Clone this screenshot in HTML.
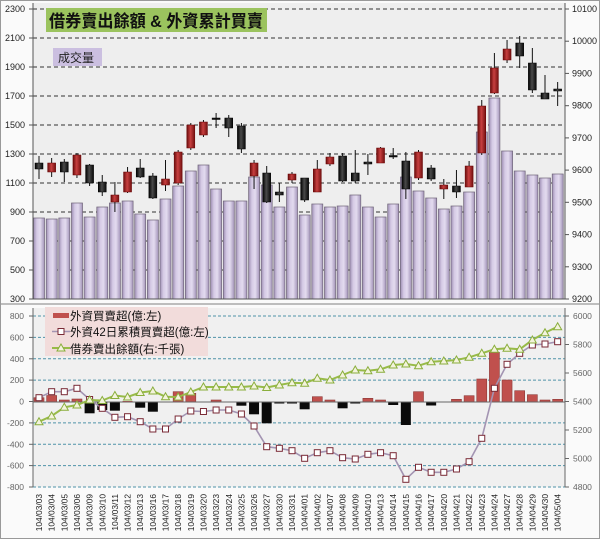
<!DOCTYPE html>
<html><head><meta charset="utf-8"><style>
html,body{margin:0;padding:0;background:#fff;}
svg{display:block;}
text{font-family:"Liberation Sans","Noto Sans CJK TC",sans-serif;}
</style></head><body>
<svg width="600" height="539" viewBox="0 0 600 539" xmlns="http://www.w3.org/2000/svg">
<defs>
<linearGradient id="vb" x1="0" x2="1" y1="0" y2="0"><stop offset="0" stop-color="#9e8fb4"/><stop offset="0.3" stop-color="#d5cae5"/><stop offset="0.6" stop-color="#e3dbef"/><stop offset="1" stop-color="#a495ba"/></linearGradient>
<linearGradient id="rc" x1="0" x2="1" y1="0" y2="0"><stop offset="0" stop-color="#6a0c0c"/><stop offset="0.45" stop-color="#c84040"/><stop offset="1" stop-color="#741010"/></linearGradient>
<linearGradient id="kc" x1="0" x2="1" y1="0" y2="0"><stop offset="0" stop-color="#000"/><stop offset="0.45" stop-color="#4a4a4a"/><stop offset="1" stop-color="#080808"/></linearGradient>
<marker id="msq" markerWidth="8" markerHeight="8" refX="4" refY="4" markerUnits="userSpaceOnUse"><rect x="1" y="1" width="6" height="6" fill="#fff" stroke="#7a2a36" stroke-width="1"/></marker>
<marker id="mtr" markerWidth="10" markerHeight="10" refX="5" refY="5.5" markerUnits="userSpaceOnUse"><polygon points="5,1.5 1,8.5 9,8.5" fill="#f3f3dc" stroke="#8aae3c" stroke-width="1"/></marker>
</defs>

<!-- backgrounds -->
<rect x="0" y="0" width="600" height="539" fill="#fafafa"/>
<rect x="33" y="3" width="532" height="296" fill="#eeeeee"/>
<rect x="33" y="308" width="532" height="179" fill="#f0f0f0"/>
<rect x="0.5" y="0.5" width="599" height="538" fill="none" stroke="#999"/>
<line x1="0" y1="304" x2="600" y2="304" stroke="#999" stroke-width="1.2"/>

<!-- top gridlines -->
<g stroke="#333" stroke-width="1" stroke-dasharray="4,3">
<line x1="33" y1="9" x2="565" y2="9"/><line x1="33" y1="38" x2="565" y2="38"/><line x1="33" y1="67" x2="565" y2="67"/><line x1="33" y1="96" x2="565" y2="96"/><line x1="33" y1="125" x2="565" y2="125"/><line x1="33" y1="154" x2="565" y2="154"/><line x1="33" y1="183" x2="565" y2="183"/><line x1="33" y1="212" x2="565" y2="212"/><line x1="33" y1="241" x2="565" y2="241"/><line x1="33" y1="270" x2="565" y2="270"/>
</g>

<!-- volume bars -->
<g fill="url(#vb)" stroke="#6f6478" stroke-width="0.7">
<rect x="33.5" y="218" width="11" height="81"/><rect x="46.2" y="219" width="11" height="80"/><rect x="58.8" y="218" width="11" height="81"/><rect x="71.5" y="203" width="11" height="96"/><rect x="84.1" y="217" width="11" height="82"/><rect x="96.8" y="207" width="11" height="92"/><rect x="109.4" y="203" width="11" height="96"/><rect x="122.1" y="201" width="11" height="98"/><rect x="134.7" y="214" width="11" height="85"/><rect x="147.4" y="220" width="11" height="79"/><rect x="160" y="199" width="11" height="100"/><rect x="172.7" y="186" width="11" height="113"/><rect x="185.3" y="171" width="11" height="128"/><rect x="198" y="165" width="11" height="134"/><rect x="210.6" y="189" width="11" height="110"/><rect x="223.3" y="201" width="11" height="98"/><rect x="235.9" y="201" width="11" height="98"/><rect x="248.6" y="177" width="11" height="122"/><rect x="261.2" y="185" width="11" height="114"/><rect x="273.9" y="207" width="11" height="92"/><rect x="286.5" y="187" width="11" height="112"/><rect x="299.2" y="215" width="11" height="84"/><rect x="311.8" y="204" width="11" height="95"/><rect x="324.5" y="207" width="11" height="92"/><rect x="337.1" y="206" width="11" height="93"/><rect x="349.8" y="195" width="11" height="104"/><rect x="362.4" y="207" width="11" height="92"/><rect x="375.1" y="217" width="11" height="82"/><rect x="387.7" y="204" width="11" height="95"/><rect x="400.4" y="177" width="11" height="122"/><rect x="413" y="191" width="11" height="108"/><rect x="425.7" y="198" width="11" height="101"/><rect x="438.3" y="209" width="11" height="90"/><rect x="451" y="206" width="11" height="93"/><rect x="463.6" y="192" width="11" height="107"/><rect x="476.3" y="132" width="11" height="167"/><rect x="488.9" y="98" width="11" height="201"/><rect x="501.6" y="151" width="11" height="148"/><rect x="514.2" y="171" width="11" height="128"/><rect x="526.9" y="175" width="11" height="124"/><rect x="539.5" y="178" width="11" height="121"/><rect x="552.2" y="174" width="11" height="125"/>
</g>

<!-- candle wicks -->
<g stroke="#111" stroke-width="1">
<line x1="39" y1="156" x2="39" y2="179"/><line x1="51.65" y1="158" x2="51.65" y2="177"/><line x1="64.3" y1="159" x2="64.3" y2="182"/><line x1="76.95" y1="153" x2="76.95" y2="178"/><line x1="89.6" y1="164" x2="89.6" y2="186"/><line x1="102.25" y1="175" x2="102.25" y2="196"/><line x1="114.9" y1="182" x2="114.9" y2="212"/><line x1="127.55" y1="167" x2="127.55" y2="193"/><line x1="140.2" y1="159" x2="140.2" y2="178"/><line x1="152.85" y1="173" x2="152.85" y2="199"/><line x1="165.5" y1="160" x2="165.5" y2="191"/><line x1="178.15" y1="150" x2="178.15" y2="185"/><line x1="190.8" y1="123" x2="190.8" y2="150"/><line x1="203.45" y1="120" x2="203.45" y2="137"/><line x1="216.1" y1="113" x2="216.1" y2="128"/><line x1="228.75" y1="115" x2="228.75" y2="137"/><line x1="241.4" y1="123" x2="241.4" y2="153"/><line x1="254.05" y1="160" x2="254.05" y2="189"/><line x1="266.7" y1="166" x2="266.7" y2="203"/><line x1="279.35" y1="183" x2="279.35" y2="202"/><line x1="292" y1="172" x2="292" y2="183"/><line x1="304.65" y1="178" x2="304.65" y2="202"/><line x1="317.3" y1="160" x2="317.3" y2="192"/><line x1="329.95" y1="153" x2="329.95" y2="166"/><line x1="342.6" y1="153" x2="342.6" y2="182"/><line x1="355.25" y1="150" x2="355.25" y2="183"/><line x1="367.9" y1="154" x2="367.9" y2="175"/><line x1="380.55" y1="147" x2="380.55" y2="163"/><line x1="393.2" y1="148" x2="393.2" y2="159"/><line x1="405.85" y1="152" x2="405.85" y2="199"/><line x1="418.5" y1="150" x2="418.5" y2="180"/><line x1="431.15" y1="165" x2="431.15" y2="181"/><line x1="443.8" y1="179" x2="443.8" y2="199"/><line x1="456.45" y1="170" x2="456.45" y2="198"/><line x1="469.1" y1="161" x2="469.1" y2="187"/><line x1="481.75" y1="100" x2="481.75" y2="155"/><line x1="494.4" y1="53" x2="494.4" y2="94"/><line x1="507.05" y1="40" x2="507.05" y2="63"/><line x1="519.7" y1="36" x2="519.7" y2="68"/><line x1="532.35" y1="48" x2="532.35" y2="93"/><line x1="545" y1="75" x2="545" y2="99"/><line x1="557.65" y1="82" x2="557.65" y2="106"/>
</g>
<!-- candle bodies -->
<g stroke-width="0.5">
<rect x="35" y="163" width="8" height="6" fill="url(#kc)" stroke="#000"/>
<rect x="47.65" y="163" width="8" height="9" fill="url(#rc)" stroke="#600"/>
<rect x="60.3" y="162" width="8" height="10" fill="url(#kc)" stroke="#000"/>
<rect x="72.95" y="155" width="8" height="20" fill="url(#rc)" stroke="#600"/>
<rect x="85.6" y="165" width="8" height="18" fill="url(#kc)" stroke="#000"/>
<rect x="98.25" y="182" width="8" height="10" fill="url(#kc)" stroke="#000"/>
<rect x="110.9" y="195" width="8" height="7" fill="url(#rc)" stroke="#600"/>
<rect x="123.55" y="172" width="8" height="20" fill="url(#rc)" stroke="#600"/>
<rect x="136.2" y="168" width="8" height="9" fill="url(#kc)" stroke="#000"/>
<rect x="148.85" y="176" width="8" height="22" fill="url(#kc)" stroke="#000"/>
<rect x="161.5" y="179" width="8" height="6" fill="url(#rc)" stroke="#600"/>
<rect x="174.15" y="152" width="8" height="31" fill="url(#rc)" stroke="#600"/>
<rect x="186.8" y="125" width="8" height="23" fill="url(#rc)" stroke="#600"/>
<rect x="199.45" y="122" width="8" height="13" fill="url(#rc)" stroke="#600"/>
<rect x="212.1" y="118" width="8" height="1.5" fill="#111" stroke="#000"/>
<rect x="224.75" y="118" width="8" height="10" fill="url(#kc)" stroke="#000"/>
<rect x="237.4" y="126" width="8" height="23" fill="url(#kc)" stroke="#000"/>
<rect x="250.05" y="163" width="8" height="13" fill="url(#rc)" stroke="#600"/>
<rect x="262.7" y="173" width="8" height="29" fill="url(#kc)" stroke="#000"/>
<rect x="275.35" y="192" width="8" height="3" fill="url(#kc)" stroke="#000"/>
<rect x="288" y="174" width="8" height="6" fill="url(#rc)" stroke="#600"/>
<rect x="300.65" y="178" width="8" height="22" fill="url(#kc)" stroke="#000"/>
<rect x="313.3" y="169" width="8" height="23" fill="url(#rc)" stroke="#600"/>
<rect x="325.95" y="157" width="8" height="7" fill="url(#rc)" stroke="#600"/>
<rect x="338.6" y="156" width="8" height="25" fill="url(#kc)" stroke="#000"/>
<rect x="351.25" y="173" width="8" height="8" fill="url(#kc)" stroke="#000"/>
<rect x="363.9" y="162" width="8" height="2" fill="url(#kc)" stroke="#000"/>
<rect x="376.55" y="148" width="8" height="15" fill="url(#rc)" stroke="#600"/>
<rect x="389.2" y="155.5" width="8" height="1.5" fill="#111" stroke="#000"/>
<rect x="401.85" y="161" width="8" height="28" fill="url(#kc)" stroke="#000"/>
<rect x="414.5" y="152" width="8" height="26" fill="url(#rc)" stroke="#600"/>
<rect x="427.15" y="168" width="8" height="11" fill="url(#kc)" stroke="#000"/>
<rect x="439.8" y="185" width="8" height="4" fill="url(#rc)" stroke="#600"/>
<rect x="452.45" y="186" width="8" height="6" fill="url(#kc)" stroke="#000"/>
<rect x="465.1" y="166" width="8" height="21" fill="url(#rc)" stroke="#600"/>
<rect x="477.75" y="106" width="8" height="47" fill="url(#rc)" stroke="#600"/>
<rect x="490.4" y="68" width="8" height="25" fill="url(#rc)" stroke="#600"/>
<rect x="503.05" y="49" width="8" height="11" fill="url(#rc)" stroke="#600"/>
<rect x="515.7" y="43" width="8" height="13" fill="url(#kc)" stroke="#000"/>
<rect x="528.35" y="63" width="8" height="27" fill="url(#kc)" stroke="#000"/>
<rect x="541" y="93" width="8" height="6" fill="url(#kc)" stroke="#000"/>
<rect x="553.65" y="89" width="8" height="2" fill="url(#kc)" stroke="#000"/>
</g>

<!-- top axes -->
<g stroke="#555" stroke-width="1">
<line x1="33" y1="3" x2="33" y2="299"/><line x1="565" y1="3" x2="565" y2="299"/><line x1="33" y1="299" x2="565" y2="299"/>
<line x1="29" y1="9" x2="33" y2="9"/><line x1="29" y1="38" x2="33" y2="38"/><line x1="29" y1="67" x2="33" y2="67"/><line x1="29" y1="96" x2="33" y2="96"/><line x1="29" y1="125" x2="33" y2="125"/><line x1="29" y1="154" x2="33" y2="154"/><line x1="29" y1="183" x2="33" y2="183"/><line x1="29" y1="212" x2="33" y2="212"/><line x1="29" y1="241" x2="33" y2="241"/><line x1="29" y1="270" x2="33" y2="270"/><line x1="29" y1="299" x2="33" y2="299"/>
<line x1="565" y1="9" x2="569" y2="9"/><line x1="565" y1="41.2" x2="569" y2="41.2"/><line x1="565" y1="73.4" x2="569" y2="73.4"/><line x1="565" y1="105.7" x2="569" y2="105.7"/><line x1="565" y1="137.9" x2="569" y2="137.9"/><line x1="565" y1="170.1" x2="569" y2="170.1"/><line x1="565" y1="202.3" x2="569" y2="202.3"/><line x1="565" y1="234.6" x2="569" y2="234.6"/><line x1="565" y1="266.8" x2="569" y2="266.8"/><line x1="565" y1="299" x2="569" y2="299"/>
</g>
<g font-size="9" fill="#222" text-anchor="end">
<text x="25" y="12">2300</text><text x="25" y="41">2100</text><text x="25" y="70">1900</text><text x="25" y="99">1700</text><text x="25" y="128">1500</text><text x="25" y="157">1300</text><text x="25" y="186">1100</text><text x="25" y="215">900</text><text x="25" y="244">700</text><text x="25" y="273">500</text><text x="25" y="302">300</text>
</g>
<g font-size="9" fill="#222">
<text x="572" y="12">10100</text><text x="572" y="44.2">10000</text><text x="572" y="76.4">9900</text><text x="572" y="108.7">9800</text><text x="572" y="140.9">9700</text><text x="572" y="173.1">9600</text><text x="572" y="205.3">9500</text><text x="572" y="237.6">9400</text><text x="572" y="269.8">9300</text><text x="572" y="302">9200</text>
</g>

<!-- title & label -->
<rect x="46" y="8" width="221" height="24" fill="#9bc35e"/>
<text x="49" y="27" font-size="17" font-weight="bold" fill="#111" textLength="214" lengthAdjust="spacingAndGlyphs">借券賣出餘額 &amp; 外資累計買賣</text>
<rect x="53" y="48" width="49" height="18" fill="#cbbfe0"/>
<text x="58" y="62" font-size="12" fill="#222">成交量</text>

<!-- bottom gridlines -->
<g stroke="#4f93a8" stroke-width="1" stroke-dasharray="3,2">
<line x1="33" y1="316" x2="565" y2="316"/><line x1="33" y1="337.4" x2="565" y2="337.4"/><line x1="33" y1="358.8" x2="565" y2="358.8"/><line x1="33" y1="380.1" x2="565" y2="380.1"/><line x1="33" y1="422.9" x2="565" y2="422.9"/><line x1="33" y1="444.3" x2="565" y2="444.3"/><line x1="33" y1="465.6" x2="565" y2="465.6"/><line x1="33" y1="487" x2="565" y2="487"/>
</g>

<!-- net buy bars -->
<g stroke-width="0.6">
<rect x="34" y="397.7" width="10" height="4.3" fill="#c0504d" stroke="#8c3a38"/>
<rect x="46.65" y="395.5" width="10" height="6.5" fill="#c0504d" stroke="#8c3a38"/>
<rect x="59.3" y="400" width="10" height="2" fill="#c0504d" stroke="#8c3a38"/>
<rect x="71.95" y="399" width="10" height="3" fill="#c0504d" stroke="#8c3a38"/>
<rect x="84.6" y="402" width="10" height="11.3" fill="#0a0a0a"/>
<rect x="97.25" y="402" width="10" height="8" fill="#0a0a0a"/>
<rect x="109.9" y="402" width="10" height="8.7" fill="#0a0a0a"/>
<rect x="122.55" y="401" width="10" height="1" fill="#c0504d"/>
<rect x="135.2" y="402" width="10" height="5.7" fill="#0a0a0a"/>
<rect x="147.85" y="402" width="10" height="9.7" fill="#0a0a0a"/>
<rect x="173.15" y="391.7" width="10" height="10.3" fill="#c0504d" stroke="#8c3a38"/>
<rect x="185.8" y="393.3" width="10" height="8.7" fill="#c0504d" stroke="#8c3a38"/>
<rect x="211.1" y="400" width="10" height="2" fill="#c0504d" stroke="#8c3a38"/>
<rect x="236.4" y="402" width="10" height="3.7" fill="#0a0a0a"/>
<rect x="249.05" y="402" width="10" height="12.3" fill="#0a0a0a"/>
<rect x="261.7" y="402" width="10" height="21.3" fill="#0a0a0a"/>
<rect x="274.35" y="402" width="10" height="1.5" fill="#0a0a0a"/>
<rect x="287" y="402" width="10" height="1.5" fill="#0a0a0a"/>
<rect x="299.65" y="402" width="10" height="7.3" fill="#0a0a0a"/>
<rect x="312.3" y="396.7" width="10" height="5.3" fill="#c0504d" stroke="#8c3a38"/>
<rect x="324.95" y="400" width="10" height="2" fill="#c0504d" stroke="#8c3a38"/>
<rect x="337.6" y="402" width="10" height="6.3" fill="#0a0a0a"/>
<rect x="350.25" y="402" width="10" height="1.5" fill="#0a0a0a"/>
<rect x="362.9" y="398.3" width="10" height="3.7" fill="#c0504d" stroke="#8c3a38"/>
<rect x="375.55" y="400" width="10" height="2" fill="#c0504d" stroke="#8c3a38"/>
<rect x="388.2" y="402" width="10" height="3" fill="#0a0a0a"/>
<rect x="400.85" y="402" width="10" height="23" fill="#0a0a0a"/>
<rect x="413.5" y="391.7" width="10" height="10.3" fill="#c0504d" stroke="#8c3a38"/>
<rect x="426.15" y="402" width="10" height="3.5" fill="#0a0a0a"/>
<rect x="451.45" y="399.3" width="10" height="2.7" fill="#c0504d" stroke="#8c3a38"/>
<rect x="464.1" y="395.7" width="10" height="6.3" fill="#c0504d" stroke="#8c3a38"/>
<rect x="476.75" y="379" width="10" height="23" fill="#c0504d" stroke="#8c3a38"/>
<rect x="489.4" y="352.3" width="10" height="49.7" fill="#c0504d" stroke="#8c3a38"/>
<rect x="502.05" y="380" width="10" height="22" fill="#c0504d" stroke="#8c3a38"/>
<rect x="514.7" y="390.7" width="10" height="11.3" fill="#c0504d" stroke="#8c3a38"/>
<rect x="527.35" y="394.7" width="10" height="7.3" fill="#c0504d" stroke="#8c3a38"/>
<rect x="540" y="400" width="10" height="2" fill="#c0504d" stroke="#8c3a38"/>
<rect x="552.65" y="399.3" width="10" height="2.7" fill="#c0504d" stroke="#8c3a38"/>
</g>

<!-- bottom axes -->
<g stroke="#666" stroke-width="1">
<line x1="33" y1="308" x2="33" y2="487"/><line x1="565" y1="308" x2="565" y2="487"/><line x1="33" y1="402" x2="565" y2="402"/>
<line x1="29" y1="316" x2="33" y2="316"/><line x1="29" y1="337.4" x2="33" y2="337.4"/><line x1="29" y1="358.8" x2="33" y2="358.8"/><line x1="29" y1="380.1" x2="33" y2="380.1"/><line x1="29" y1="401.5" x2="33" y2="401.5"/><line x1="29" y1="422.9" x2="33" y2="422.9"/><line x1="29" y1="444.3" x2="33" y2="444.3"/><line x1="29" y1="465.6" x2="33" y2="465.6"/><line x1="29" y1="487" x2="33" y2="487"/>
<line x1="565" y1="316" x2="569" y2="316"/><line x1="565" y1="344.5" x2="569" y2="344.5"/><line x1="565" y1="373" x2="569" y2="373"/><line x1="565" y1="401.5" x2="569" y2="401.5"/><line x1="565" y1="430" x2="569" y2="430"/><line x1="565" y1="458.5" x2="569" y2="458.5"/><line x1="565" y1="487" x2="569" y2="487"/>
</g>
<g font-size="8.5" fill="#666" text-anchor="end">
<text x="24" y="319">800</text><text x="24" y="340.4">600</text><text x="24" y="361.8">400</text><text x="24" y="383.1">200</text><text x="24" y="404.5">0</text><text x="24" y="425.9">-200</text><text x="24" y="447.3">-400</text><text x="24" y="468.6">-600</text><text x="24" y="490">-800</text>
</g>
<g font-size="8.5" fill="#666">
<text x="573" y="319">6000</text><text x="573" y="347.5">5800</text><text x="573" y="376">5600</text><text x="573" y="404.5">5400</text><text x="573" y="433">5200</text><text x="573" y="461.5">5000</text><text x="573" y="490">4800</text>
</g>

<!-- cumulative line (squares) -->
<polyline fill="none" stroke="#a394b2" stroke-width="1.6" marker-start="url(#msq)" marker-mid="url(#msq)" marker-end="url(#msq)" points="39,397.7 51.65,391.7 64.3,391.7 76.95,388.3 89.6,399.5 102.25,408.3 114.9,417.3 127.55,416.7 140.2,421.7 152.85,429 165.5,429 178.15,419 190.8,411 203.45,411.5 216.1,410 228.75,410 241.4,414 254.05,426 266.7,446.7 279.35,448.3 292,450.7 304.65,458.3 317.3,452.7 329.95,450.7 342.6,457.7 355.25,459 367.9,454.3 380.55,452.7 393.2,455.7 405.85,479.3 418.5,467.3 431.15,472.3 443.8,472.3 456.45,469 469.1,461.7 481.75,438.3 494.4,388.3 507.05,364.3 519.7,353.3 532.35,345 545,344 557.65,341.7"/>

<!-- short balance line (triangles) -->
<polyline fill="none" stroke="#98bb48" stroke-width="2" marker-start="url(#mtr)" marker-mid="url(#mtr)" marker-end="url(#mtr)" points="39,421.7 51.65,416 64.3,407.3 76.95,405 89.6,400 102.25,400.5 114.9,395.5 127.55,397 140.2,392.5 152.85,391 165.5,396.7 178.15,397 190.8,392 203.45,387 216.1,387 228.75,387 241.4,387 254.05,386 266.7,387.5 279.35,385 292,382.7 304.65,383.3 317.3,378.3 329.95,380 342.6,375 355.25,370 367.9,370.7 380.55,369.3 393.2,365 405.85,364 418.5,365.7 431.15,361.7 443.8,361 456.45,360 469.1,357.3 481.75,353.3 494.4,349.3 507.05,348.3 519.7,349.3 532.35,340 545,332.7 557.65,326.7"/>

<!-- legend -->
<rect x="45" y="307" width="163" height="49" fill="#f2dcdb"/>
<rect x="53" y="313" width="16" height="5" fill="#c0504d"/>
<line x1="52" y1="331.5" x2="70" y2="331.5" stroke="#a394b2" stroke-width="1.6"/>
<rect x="58" y="328.5" width="6" height="6" fill="#fff" stroke="#7a2a36"/>
<line x1="52" y1="348" x2="70" y2="348" stroke="#98bb48" stroke-width="2"/>
<polygon points="61,344 57,351 65,351" fill="#f3f3dc" stroke="#8aae3c"/>
<g font-size="11.5" fill="#111">
<text x="70" y="320">外資買賣超(億:左)</text>
<text x="70" y="336">外資42日累積買賣超(億:左)</text>
<text x="70" y="353">借券賣出餘額(右:千張)</text>
</g>

<!-- x labels -->
<g font-size="8.4" fill="#222" text-anchor="end">
<text transform="translate(42,494) rotate(-90)">104/03/03</text>
<text transform="translate(54.65,494) rotate(-90)">104/03/04</text>
<text transform="translate(67.3,494) rotate(-90)">104/03/05</text>
<text transform="translate(79.95,494) rotate(-90)">104/03/06</text>
<text transform="translate(92.6,494) rotate(-90)">104/03/09</text>
<text transform="translate(105.25,494) rotate(-90)">104/03/10</text>
<text transform="translate(117.9,494) rotate(-90)">104/03/11</text>
<text transform="translate(130.55,494) rotate(-90)">104/03/12</text>
<text transform="translate(143.2,494) rotate(-90)">104/03/13</text>
<text transform="translate(155.85,494) rotate(-90)">104/03/16</text>
<text transform="translate(168.5,494) rotate(-90)">104/03/17</text>
<text transform="translate(181.15,494) rotate(-90)">104/03/18</text>
<text transform="translate(193.8,494) rotate(-90)">104/03/19</text>
<text transform="translate(206.45,494) rotate(-90)">104/03/20</text>
<text transform="translate(219.1,494) rotate(-90)">104/03/23</text>
<text transform="translate(231.75,494) rotate(-90)">104/03/24</text>
<text transform="translate(244.4,494) rotate(-90)">104/03/25</text>
<text transform="translate(257.05,494) rotate(-90)">104/03/26</text>
<text transform="translate(269.7,494) rotate(-90)">104/03/27</text>
<text transform="translate(282.35,494) rotate(-90)">104/03/30</text>
<text transform="translate(295,494) rotate(-90)">104/03/31</text>
<text transform="translate(307.65,494) rotate(-90)">104/04/01</text>
<text transform="translate(320.3,494) rotate(-90)">104/04/02</text>
<text transform="translate(332.95,494) rotate(-90)">104/04/07</text>
<text transform="translate(345.6,494) rotate(-90)">104/04/08</text>
<text transform="translate(358.25,494) rotate(-90)">104/04/09</text>
<text transform="translate(370.9,494) rotate(-90)">104/04/10</text>
<text transform="translate(383.55,494) rotate(-90)">104/04/13</text>
<text transform="translate(396.2,494) rotate(-90)">104/04/14</text>
<text transform="translate(408.85,494) rotate(-90)">104/04/15</text>
<text transform="translate(421.5,494) rotate(-90)">104/04/16</text>
<text transform="translate(434.15,494) rotate(-90)">104/04/17</text>
<text transform="translate(446.8,494) rotate(-90)">104/04/20</text>
<text transform="translate(459.45,494) rotate(-90)">104/04/21</text>
<text transform="translate(472.1,494) rotate(-90)">104/04/22</text>
<text transform="translate(484.75,494) rotate(-90)">104/04/23</text>
<text transform="translate(497.4,494) rotate(-90)">104/04/24</text>
<text transform="translate(510.05,494) rotate(-90)">104/04/27</text>
<text transform="translate(522.7,494) rotate(-90)">104/04/28</text>
<text transform="translate(535.35,494) rotate(-90)">104/04/29</text>
<text transform="translate(548,494) rotate(-90)">104/04/30</text>
<text transform="translate(560.65,494) rotate(-90)">104/05/04</text>
</g>
</svg>
</body></html>
